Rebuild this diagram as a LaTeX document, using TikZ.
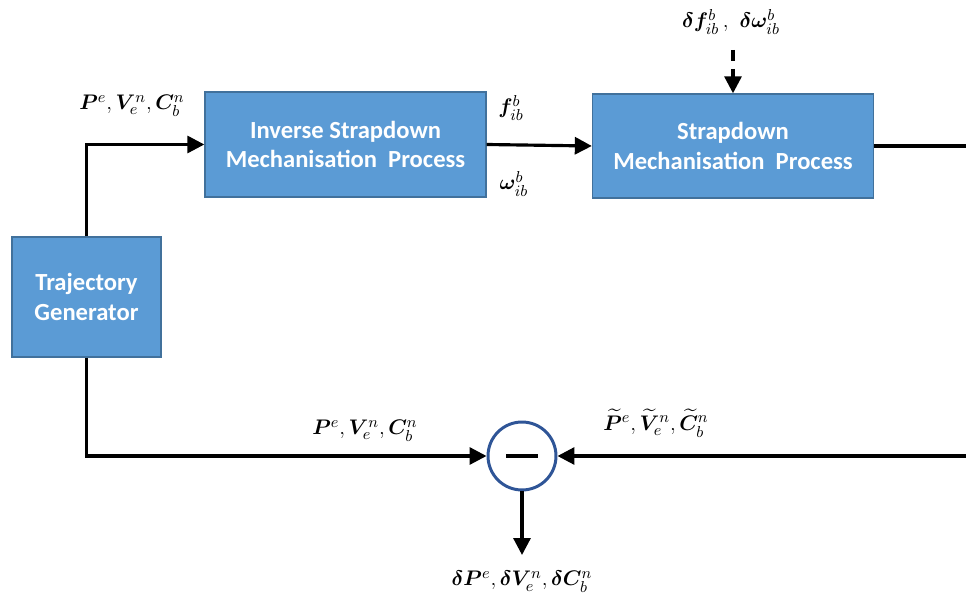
\documentclass[tikz,border=0pt]{standalone}
\usepackage{amsmath,amssymb,bm}
\usepackage{fontspec}
\setsansfont{Carlito}
\usepackage{tikz}
\usetikzlibrary{positioning, arrows.meta}

\definecolor{boxblue}{HTML}{5B9BD5}
\definecolor{boxedge}{HTML}{41719C}
\definecolor{ringblue}{HTML}{2F5597}

\begin{document}
\begin{tikzpicture}[x=0.02cm, y=-0.02cm, font=\sffamily]
        % Setup the styles for the blocks
        \tikzset{block style/.style={rectangle,
                                     draw=boxedge,
                                     line width=0.8pt,
                                     fill=boxblue,
                                     text=white,
                                     align=center,
                                     inner sep=0pt,
                                     font=\sffamily\bfseries\fontsize{14}{17}\selectfont},
                 sum style/.style={circle,
                                   draw=ringblue,
                                   line width=1.7pt,
                                   fill=white,
                                   minimum size=1.36cm,
                                   inner sep=0pt},
                 signal/.style={line width=1.8pt,
                                -{Triangle[length=0.34cm,width=0.34cm]}},
                 label style/.style={font=\fontsize{13}{15}\selectfont}}
        \useasboundingbox (0,0) rectangle (966,597);

        % Draw the blocks
        \node[block style, minimum width=2.98cm, minimum height=2.4cm] at (86.5,297) (traj) {Trajectory\\Generator};
        \node[block style, minimum width=5.62cm, minimum height=2.1cm] at (345.5,144.5) (inverse) {Inverse Strapdown\\Mechanisation\ \ Process};
        \node[block style, minimum width=5.62cm, minimum height=2.08cm] at (733,146) (strap) {Strapdown\\Mechanisation\ \ Process};
        \node[sum style] at (522,456) (sum) {};
        \draw[line width=2.2pt] ([xshift=-0.32cm]sum.center) -- ([xshift=0.32cm]sum.center);

        % Free ends and corners
        \coordinate (noise) at (733,50);
        \coordinate (outright) at (966,146);
        \coordinate (inright) at (966,456);
        \coordinate (errout) at (522,555);

        % Connect the blocks with arrows
        \draw[signal] (traj.north) |- (inverse.west);
        \draw[signal] (traj.south) |- (sum.west);
        \draw[signal] (inverse.east) -- (strap.west);
        \draw[line width=1.8pt] (strap.east |- outright) -- (outright);
        \draw[signal] (inright) -- (sum.east);
        \draw[signal] (sum.south) -- (errout);
        \draw[signal, dash pattern=on 0.22cm off 0.16cm] (noise) -- (strap.north);

        % Signal labels
        \node[label style] at (132,106) (reflabel) {$\bm{P}^{e}, \bm{V}_{e}^{n}, \bm{C}_{b}^{n}$};
        \node[label style] at (511,108) (flabel) {$\bm{f}_{ib}^{b}$};
        \node[label style] at (514,184) (wlabel) {$\bm{\omega}_{ib}^{b}$};
        \node[label style] at (731,22) (noiselabel) {$\bm{\delta f}_{ib}^{b}\,,\ \bm{\delta\omega}_{ib}^{b}$};
        \node[label style] at (365,431) (truelabel) {$\bm{P}^{e}, \bm{V}_{e}^{n}, \bm{C}_{b}^{n}$};
        \node[label style] at (656,423) (estlabel) {$\widetilde{\bm{P}}^{e}, \widetilde{\bm{V}}_{e}^{n}, \widetilde{\bm{C}}_{b}^{n}$};
        \node[label style] at (522,582) (errlabel) {$\bm{\delta P}^{e}, \bm{\delta V}_{e}^{n}, \bm{\delta C}_{b}^{n}$};
\end{tikzpicture}
\end{document}
